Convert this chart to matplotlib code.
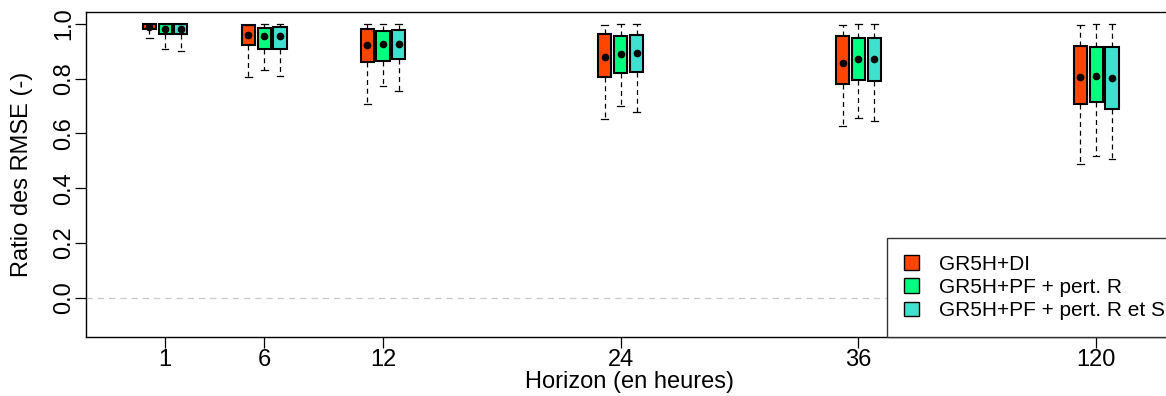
import matplotlib
matplotlib.use("Agg")
import matplotlib.pyplot as plt
from matplotlib.patches import Patch

plt.rcParams['font.family'] = ['Liberation Sans', 'DejaVu Sans']

# horizons (h) and their slot on the x axis (120 h is drawn in the 48 h slot)
horizon_labels = ['1', '6', '12', '24', '36', '120']
horizon_pos = [1, 6, 12, 24, 36, 48]

model_names = ['GR5H+DI', 'GR5H+PF + pert. R', 'GR5H+PF + pert. R et S']
model_colors = ['orangered', 'springgreen', 'turquoise']

# GR5H+DI
di_hi = [1.000, 0.997, 0.999, 0.995, 0.995, 0.996]
di_q3 = [1.000, 0.996, 0.981, 0.965, 0.957, 0.921]
di_q1 = [0.982, 0.923, 0.862, 0.806, 0.781, 0.706]
di_lo = [0.950, 0.806, 0.706, 0.654, 0.626, 0.489]
di_mean = [0.990, 0.959, 0.923, 0.878, 0.859, 0.806]

# GR5H+PF + pert. R
pfr_hi = [0.999, 0.999, 0.999, 0.999, 0.999, 0.999]
pfr_q3 = [0.999, 0.984, 0.976, 0.957, 0.948, 0.915]
pfr_q1 = [0.962, 0.910, 0.866, 0.820, 0.795, 0.715]
pfr_lo = [0.910, 0.831, 0.773, 0.701, 0.657, 0.518]
pfr_mean = [0.982, 0.955, 0.927, 0.890, 0.871, 0.810]

# GR5H+PF + pert. R et S
pfrs_hi = [0.999, 0.999, 0.999, 0.999, 0.999, 0.999]
pfrs_q3 = [0.999, 0.989, 0.978, 0.961, 0.948, 0.915]
pfrs_q1 = [0.962, 0.910, 0.871, 0.823, 0.792, 0.690]
pfrs_lo = [0.901, 0.810, 0.755, 0.678, 0.645, 0.505]
pfrs_mean = [0.982, 0.955, 0.927, 0.894, 0.871, 0.803]

series = [
    (di_lo, di_q1, di_q3, di_hi, di_mean),
    (pfr_lo, pfr_q1, pfr_q3, pfr_hi, pfr_mean),
    (pfrs_lo, pfrs_q1, pfrs_q3, pfrs_hi, pfrs_mean),
]
offsets = [-0.8, 0.0, 0.8]

fig = plt.figure(figsize=(11.66, 3.96), dpi=100)
# the plot region runs a little past the right edge of the figure
ax = fig.add_axes([0.0738, 0.149, 0.94, 0.8207])

ax.axhline(0, color='#c8c8c8', lw=0.9, ls=(0, (5, 4)), zorder=0)

for k, (lo, q1, q3, hi, mean) in enumerate(series):
    stats = []
    for i in range(len(horizon_pos)):
        stats.append({'whislo': lo[i], 'q1': q1[i], 'med': mean[i], 'q3': q3[i],
                      'whishi': hi[i], 'mean': mean[i], 'fliers': []})
    pos = [p + offsets[k] for p in horizon_pos]
    ax.bxp(stats, positions=pos, widths=0.66, capwidths=0.34, patch_artist=True,
           showmeans=True, manage_ticks=False,
           boxprops=dict(facecolor=model_colors[k], edgecolor='black', lw=1.5),
           whiskerprops=dict(color='black', lw=0.9, ls=(0, (4, 3))),
           capprops=dict(color='black', lw=0.9),
           medianprops=dict(linestyle='none'),
           meanprops=dict(marker='o', markerfacecolor='black', markeredgecolor='black',
                          markersize=4.5))

ax.set_xlim(-2.99, 52.34)
ax.set_ylim(-0.144, 1.044)
ax.set_xticks(horizon_pos)
ax.set_xticklabels(horizon_labels)
ax.set_yticks([0.0, 0.2, 0.4, 0.6, 0.8, 1.0])
ax.set_yticklabels(['0.0', '0.2', '0.4', '0.6', '0.8', '1.0'], rotation=90, va='center')
ax.tick_params(axis='both', labelsize=17, length=8, width=0.9)
ax.tick_params(axis='x', pad=1)
ax.tick_params(axis='y', pad=0)
for s in ax.spines.values():
    s.set_linewidth(1.0)

ax.set_xlabel('Horizon (en heures)', fontsize=17, labelpad=0)
ax.xaxis.set_label_coords((629 - 86) / (1182 - 86), -0.105)
ax.xaxis.label.set_va('top')
ax.set_ylabel('Ratio des RMSE (-)', fontsize=17, labelpad=14)

handles = [Patch(facecolor=c, edgecolor='black', lw=1.0) for c in model_colors]
leg = ax.legend(handles, model_names, loc='lower right', fontsize=15, borderaxespad=0,
                fancybox=False, framealpha=1, edgecolor='#333333', borderpad=0.8,
                labelspacing=0.2, handlelength=0.72, handleheight=0.72, handletextpad=1.0)
leg.get_frame().set_linewidth(1.0)

fig.savefig('out.png', dpi=100)
